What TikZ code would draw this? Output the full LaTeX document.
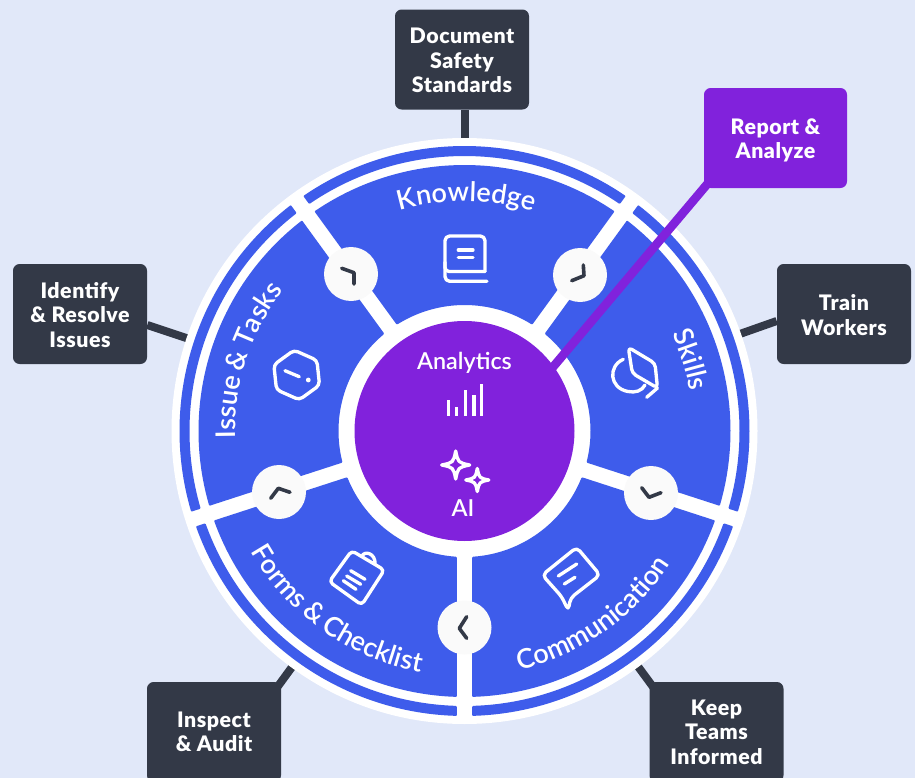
\documentclass[tikz,border=0pt]{standalone}
\usepackage{fontspec}
\setmainfont{Lato}
\newfontfamily\seglabel[WordSpace=0.8]{Lato Semibold}
\newfontfamily\boxfont[LetterSpace=2.5]{Lato Black}
\usetikzlibrary{decorations.text,calc}
\pgfdeclarelayer{bgl}\pgfdeclarelayer{links}\pgfdeclarelayer{top}
\pgfsetlayers{bgl,links,main,top}
\definecolor{pagebg}{HTML}{E1E8F9}
\definecolor{segblue}{HTML}{3E5CEB}
\definecolor{corepurple}{HTML}{8122DC}
\definecolor{boxdark}{HTML}{333947}
\tikzset{
  infobox/.style={rectangle,rounded corners=5pt,fill=boxdark,text=white,minimum width=100.5pt,minimum height=75pt,inner sep=0pt,align=center,font=\boxfont\fontsize{16}{18.4}\selectfont},
  darklink/.style={draw=boxdark,line width=6pt},
  segfill/.style={fill=segblue,draw=segblue,line width=1.5pt,line join=round},
  bubble/.style={circle,fill=white!98!black,minimum size=40.5pt,inner sep=0pt},
  chev/.style={draw=boxdark,line width=2.7pt,line cap=round,line join=round},
  icon/.style={draw=white,line width=2.5pt,line cap=round,line join=round},
  curved/.style={decorate,decoration={text along path,text align=center,raise=0pt,text color=white,text={|\seglabel\fontsize{20.3}{20}\selectfont|#1}}},
  px/.style={yscale=-1},
  hubc/.style={shift={(464.5,-431)}}
}
\newcommand\liftsmall{\rule{0pt}{13.5pt}}
\newcommand\liftbig{\rule{0pt}{15.5pt}}
\newcommand\ringpiece[4]{%
  \pgfmathsetmacro\ri{#1+1}\pgfmathsetmacro\ro{#2-1}%
  \pgfmathsetmacro\doffo{asin(8.7/\ro)}\pgfmathsetmacro\doffi{asin(8.7/\ri)}%
  \pgfmathsetmacro\oa{#3+\doffo}\pgfmathsetmacro\ob{#4-\doffo}%
  \pgfmathsetmacro\ia{#3+\doffi}\pgfmathsetmacro\ib{#4-\doffi}%
  \path[segfill] (\oa:\ro) arc[start angle=\oa,end angle=\ob,radius=\ro] -- (\ib:\ri) arc[start angle=\ib,end angle=\ia,radius=\ri] -- cycle;
}
\newcommand\sparkle[3]{%
  \pgfmathsetmacro\kk{0.17*#3}%
  \draw[icon] (#1,#2-#3) .. controls (#1+\kk,#2-\kk) .. (#1+#3,#2) .. controls (#1+\kk,#2+\kk) .. (#1,#2+#3) .. controls (#1-\kk,#2+\kk) .. (#1-#3,#2) .. controls (#1-\kk,#2-\kk) .. cycle;
}
\begin{document}
\begin{tikzpicture}[x=0.75pt,y=0.75pt]
\useasboundingbox (0,0) rectangle (915,-778);
\begin{pgfonlayer}{bgl}
  \fill[pagebg] (0,0) rectangle (915,-778);
\end{pgfonlayer}
\clip (0,0) rectangle (915,-778);
\begin{scope}[px]
  \node[circle,fill=white,minimum size=439.5pt,inner sep=0pt] (hub) at (464.5,431) {};
  \node[infobox] (doc) at (462,59.5) {\liftsmall Document\\Safety\\Standards};
  \node[infobox] (train) at (844,314) {\liftsmall Train\\Workers};
  \node[infobox] (identify) at (80,314) {\liftsmall Identify\\\& Resolve\\Issues};
  \node[infobox] (inspect) at (214,732) {Inspect\\\& Audit};
  \node[infobox] (keep) at (716.5,732) {Keep\\Teams\\Informed};
  \begin{pgfonlayer}{links}
    \draw[darklink] (hub |- doc.south) -- (hub);
    \draw[darklink] (hub.center) -- ([yshift=5.25pt]train.west);
    \draw[darklink] (hub.center) -- ([yshift=8.25pt]identify.east);
    \draw[darklink,shorten >=-6pt] (hub.center) -- (inspect.north east);
    \draw[darklink,shorten >=-6pt] (hub.center) -- (keep.north west);
  \end{pgfonlayer}
\end{scope}

\begin{scope}[hubc]
  \foreach \a/\b in {54/126,126/198,198/270,270/342,-18/54}{
    \ringpiece{126}{266}{\a}{\b}
    \ringpiece{275}{285}{\a}{\b}
  }
  \path[curved={Knowledge}] (124.5:230) arc[start angle=124.5,end angle=54.5,radius=230];
  \path[curved={Skills}] (52:229) arc[start angle=52,end angle=-17,radius=229];
  \path[curved={Issue {\&} Tasks}] (197:229) arc[start angle=197,end angle=127,radius=229];
  \path[curved={Forms {\&} Checklist}] (199.5:245) arc[start angle=199.5,end angle=269.5,radius=245];
  \path[curved={Communication}] (270:245) arc[start angle=270,end angle=340,radius=245];
\end{scope}

\begin{scope}[px]
  \node[bubble] (b1) at (351,274) {};
  \node[bubble] (b2) at (580,275) {};
  \node[bubble] (b3) at (651,493) {};
  \node[bubble] (b4) at (279,492) {};
  \node[bubble] (b5) at (464.5,627.5) {};
  \draw[chev] (341.7,268.3) -- (354,272.7) -- (354,284);
  \draw[chev] (571.7,280.7) -- (584,275.7) -- (583.3,265);
  \draw[chev] (641.7,487.7) -- (649,497.3) -- (661,492.7);
  \draw[chev] (270.7,498.3) -- (278.3,488.3) -- (290,492.3);
  \draw[chev] (466.7,616.7) -- (459.3,628.3) -- (466.7,638.3);

  % book icon
  \draw[icon,rounded corners=3.5pt] (485,271.5) -- (485,236) -- (445,236) -- (445,281.3) -- (487,281.3);
  \draw[icon,rounded corners=3pt] (485,271.5) -- (445,271.5) -- (445,262);
  \draw[icon] (458.3,250) -- (473,250) (458.3,257.3) -- (473,257.3);

  % hexagon icon
  \begin{scope}[shift={(296.7,375)}]
    \draw[icon,rounded corners=3pt] (-96:25) -- (-36:25) -- (24:25) -- (84:25) -- (144:25) -- (204:25) -- cycle;
  \end{scope}
  \draw[icon] (285,370.7) -- (299.3,376.7);
  \fill[white] (308.3,380) circle (2.4);

  % cap icon
  \draw[icon,rounded corners=3pt] (628.3,347.3) -- (655,363.3) -- (657.5,388) -- (632.3,373.3) -- cycle;
  \draw[icon] (623.3,359.3) .. controls (608,366) and (609,388) .. (628,391.5) .. controls (635,393) and (642,391) .. (645,385);
  \draw[icon] (646.7,397.3) -- (657.5,388);

  % clipboard icon
  \draw[icon,rounded corners=3pt] (329.3,581.7) -- (351.7,550.7) -- (384.3,570) -- (361.7,605) -- cycle;
  \draw[icon] (361.7,556.7) .. controls (364,550) and (376,553) .. (375,564.5);
  \draw[icon] (350.7,570.7) -- (365,579.3) (346.7,576) -- (360.7,584.3) (343.3,580.7) -- (356,589.3);

  % speech icon
  \draw[icon,rounded corners=3.5pt] (576.7,547.3) -- (600,575) -- (570.5,598) -- (568.3,610.5) -- (561.7,596.7) -- (542.3,575) -- cycle;
  \draw[icon] (558.3,576) -- (576.7,564) (564.3,584) -- (575,577.3);
\end{scope}

\begin{pgfonlayer}{top}
\begin{scope}[px]
  \node[circle,fill=corepurple,minimum size=165pt,inner sep=0pt] (core) at (464.5,431) {};
  \node[infobox,fill=corepurple,minimum width=107.25pt] (report) at (775.5,138) {\liftbig Report \&\\Analyze};
  \node[text=white,font=\seglabel\fontsize{17.5}{17.5}\selectfont,inner sep=0pt] (analytics) at (464.5,362.5) {Analytics};
  \node[text=white,font=\seglabel\fontsize{17.5}{17.5}\selectfont,inner sep=0pt] (ai) at (463,508) {AI};
  \draw[icon,line width=2.6pt,line cap=butt] (448.3,415.7) -- (448.3,400) (456.7,415.7) -- (456.7,406.7) (465.7,415.7) -- (465.7,390) (474,415.7) -- (474,395) (481.7,415.7) -- (481.7,384);
  \sparkle{455.7}{465}{14}
  \sparkle{477.3}{480}{11.5}
\end{scope}
\end{pgfonlayer}
\begin{scope}[px]
  \draw[draw=corepurple,line width=6.5pt,shorten <=-8pt,shorten >=-6pt] (report.south west) -- (core.36);
\end{scope}
\end{tikzpicture}
\end{document}
